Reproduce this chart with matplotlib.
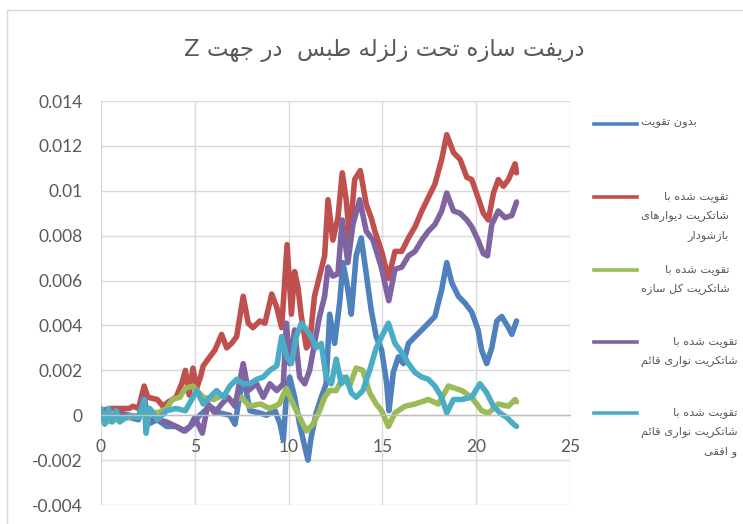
import matplotlib
matplotlib.use("Agg")
import matplotlib.pyplot as plt
from matplotlib.lines import Line2D
from matplotlib.patches import Rectangle
from matplotlib.ticker import FuncFormatter, MultipleLocator

# ---------------- data (time [s], drift) ----------------
title_text = "دریفت سازه تحت زلزله طبس  در جهت Z"

series_names = [
    "بدون تقویت",
    "تقویت شده با\nشاتکریت دیوارهای\nبازشودار",
    "تقویت شده با\nشاتکریت کل سازه",
    "تقویت شده با\nشاتکریت نواری قائم",
    "تقویت شده با\nشاتکریت نواری قائم\nو افقی",
]
series_colors = ["#4F81BD", "#C0504D", "#9BBB59", "#8064A2", "#4BACC6"]

blue_pts = [
    (0, 0.0), (0.3, 0.0002), (0.6, -0.0002), (1.0, 0.0001), (1.5, -0.0001), (2.0, -0.0002),
    (2.3, 0.0009), (2.5, -0.0004), (3.0, -0.0002), (3.5, -0.0005), (4.0, -0.0005), (4.5, -0.0007),
    (4.9, -0.0004), (5.27, 0.0), (5.8, 0.0004), (6.34, 0.0001), (6.87, 0.0), (7.14, -0.0004),
    (7.58, 0.0018), (7.94, 0.0002), (8.47, 0.0001), (8.82, 0.0), (9.28, 0.0002), (9.55, -0.0004),
    (9.72, -0.0011), (9.9, 0.0011), (10.06, 0.0017), (10.32, 0.0008), (10.59, -0.0004),
    (10.86, -0.0014), (11.03, -0.002), (11.2, -0.001), (11.47, 0.0001), (11.74, 0.0008),
    (12.0, 0.0014), (12.19, 0.0045), (12.45, 0.0032), (12.72, 0.005), (12.9, 0.0068),
    (13.16, 0.0056), (13.34, 0.0045), (13.6, 0.0071), (13.87, 0.0079), (14.14, 0.0063),
    (14.4, 0.0047), (14.67, 0.0035), (14.96, 0.0029), (15.23, 0.0014), (15.35, 0.0002),
    (15.58, 0.0019), (15.85, 0.0026), (16.12, 0.0023), (16.39, 0.0032), (16.74, 0.0035),
    (17.1, 0.0038), (17.45, 0.0041), (17.8, 0.0044), (18.16, 0.0056), (18.43, 0.0068),
    (18.7, 0.0059), (19.05, 0.0053), (19.4, 0.005), (19.76, 0.0046), (20.1, 0.0038),
    (20.29, 0.0029), (20.56, 0.0023), (20.83, 0.003), (21.1, 0.0042), (21.36, 0.0044),
    (21.72, 0.0039), (21.9, 0.0036), (22.15, 0.0042),
]

red_pts = [
    (0, 0.0002), (0.5, 0.0003), (1.0, 0.0003), (1.5, 0.0003), (1.7, 0.0004), (2.0, 0.0003),
    (2.3, 0.0013), (2.5, 0.0008), (3.0, 0.0007), (3.3, 0.0004), (3.6, 0.0006), (4.0, 0.0008),
    (4.3, 0.0014), (4.5, 0.002), (4.7, 0.0009), (4.9, 0.0021), (5.1, 0.0012), (5.3, 0.0017),
    (5.45, 0.0022), (5.8, 0.0026), (6.07, 0.0029), (6.43, 0.0036), (6.7, 0.003), (6.96, 0.0032),
    (7.23, 0.0035), (7.58, 0.0053), (7.85, 0.0041), (8.1, 0.0039), (8.47, 0.0042), (8.74, 0.0041),
    (9.1, 0.0054), (9.37, 0.0048), (9.63, 0.0039), (9.92, 0.0076), (10.15, 0.0045),
    (10.32, 0.0064), (10.5, 0.0057), (10.68, 0.0044), (10.95, 0.003), (11.12, 0.0032),
    (11.38, 0.0053), (11.65, 0.0062), (11.92, 0.0071), (12.1, 0.0096), (12.36, 0.0078),
    (12.63, 0.0088), (12.86, 0.0108), (13.07, 0.0096), (13.25, 0.0079), (13.52, 0.0105),
    (13.82, 0.0109), (14.14, 0.0094), (14.4, 0.0088), (14.6, 0.0082), (14.96, 0.0073),
    (15.32, 0.0061), (15.67, 0.0073), (16.03, 0.0073), (16.39, 0.0079), (16.74, 0.0084),
    (17.1, 0.0091), (17.45, 0.0097), (17.8, 0.0103), (18.16, 0.0114), (18.43, 0.0125),
    (18.79, 0.0117), (19.14, 0.0114), (19.5, 0.0106), (19.76, 0.0105), (20.1, 0.0097),
    (20.38, 0.009), (20.65, 0.0087), (20.92, 0.0099), (21.18, 0.0105), (21.45, 0.0102),
    (21.72, 0.0105), (22.07, 0.0112), (22.15, 0.0108),
]

green_pts = [
    (0, 0.0), (0.3, -0.0003), (0.8, -0.0002), (1.5, -0.0001), (2.0, 0.0), (2.5, 0.0002),
    (3.0, 0.0001), (3.5, 0.0003), (3.8, 0.0007), (4.2, 0.0008), (4.5, 0.0012), (4.9, 0.0013),
    (5.45, 0.0008), (6.0, 0.0007), (6.5, 0.0009), (7.0, 0.0006), (7.5, 0.0008), (7.9, 0.0004),
    (8.5, 0.0005), (9.0, 0.0003), (9.5, 0.0005), (9.88, 0.0012), (10.24, 0.0005),
    (10.59, -0.0001), (10.95, -0.0007), (11.3, -0.0004), (11.65, 0.0002), (11.92, 0.0008),
    (12.19, 0.0011), (12.54, 0.0011), (12.9, 0.0017), (13.25, 0.0013), (13.6, 0.0021),
    (13.96, 0.002), (14.32, 0.001), (14.67, 0.0005), (14.96, 0.0002), (15.32, -0.0005),
    (15.67, 0.0001), (16.2, 0.0004), (16.74, 0.0005), (17.45, 0.0007), (17.98, 0.0005),
    (18.52, 0.0013), (19.23, 0.0011), (19.76, 0.0008), (20.29, 0.0002), (20.65, 0.0001),
    (21.18, 0.0005), (21.72, 0.0004), (22.07, 0.0007), (22.15, 0.0006),
]

purple_pts = [
    (0, 0.0001), (0.5, -0.0001), (1.0, 0.0001), (1.5, 0.0), (2.0, -0.0001), (2.3, 0.0008),
    (2.5, -0.0002), (3.0, -0.0002), (3.5, -0.0003), (4.0, -0.0005), (4.4, -0.0007),
    (4.74, -0.0005), (5.0, -0.0001), (5.4, -0.0008), (5.7, 0.0005), (6.07, 0.0001),
    (6.43, 0.0005), (6.78, 0.0008), (7.14, 0.0004), (7.58, 0.0023), (7.85, 0.0011),
    (8.3, 0.0014), (8.65, 0.0008), (9.0, 0.0014), (9.37, 0.0011), (9.72, 0.0014),
    (9.88, 0.0041), (10.06, 0.0023), (10.32, 0.0038), (10.59, 0.0017), (10.86, 0.0014),
    (11.12, 0.002), (11.38, 0.0032), (11.65, 0.0044), (11.92, 0.0053), (12.1, 0.0066),
    (12.36, 0.0062), (12.63, 0.0063), (12.86, 0.0087), (13.16, 0.0068), (13.43, 0.0085),
    (13.79, 0.0096), (14.14, 0.0082), (14.5, 0.0078), (14.94, 0.0066), (15.34, 0.0051),
    (15.67, 0.0065), (16.03, 0.0066), (16.39, 0.0071), (16.74, 0.0073), (17.1, 0.0078),
    (17.45, 0.0082), (17.8, 0.0085), (18.16, 0.0091), (18.43, 0.0099), (18.79, 0.0091),
    (19.14, 0.009), (19.5, 0.0087), (19.76, 0.0084), (20.1, 0.0078), (20.38, 0.0072),
    (20.6, 0.0071), (20.83, 0.0085), (21.18, 0.0091), (21.54, 0.0088), (21.9, 0.0089),
    (22.15, 0.0095),
]

cyan_pts = [
    (0, 0.0003), (0.2, -0.0004), (0.4, 0.0003), (0.6, -0.0003), (0.8, 0.0002), (1.0, -0.0003),
    (1.5, 0.0), (2.0, -0.0001), (2.3, 0.0007), (2.4, -0.0008), (2.6, 0.0003), (3.0, -0.0002),
    (3.5, 0.0002), (4.0, 0.0003), (4.5, 0.0002), (4.9, 0.0008), (5.1, 0.0011), (5.45, 0.0005),
    (5.8, 0.0008), (6.16, 0.0011), (6.52, 0.0008), (6.87, 0.0013), (7.23, 0.0016),
    (7.58, 0.0014), (7.94, 0.0014), (8.3, 0.0016), (8.65, 0.0017), (9.0, 0.002), (9.37, 0.0022),
    (9.63, 0.0035), (9.9, 0.0026), (10.15, 0.0023), (10.41, 0.0035), (10.68, 0.0041),
    (10.95, 0.0038), (11.2, 0.0035), (11.47, 0.003), (11.74, 0.0032), (12.0, 0.0017),
    (12.28, 0.0014), (12.54, 0.0025), (12.81, 0.0014), (13.07, 0.0017), (13.34, 0.001),
    (13.6, 0.0008), (13.96, 0.0011), (14.32, 0.002), (14.67, 0.003), (14.96, 0.0035),
    (15.32, 0.0041), (15.67, 0.0032), (16.03, 0.0028), (16.39, 0.0023), (16.74, 0.0019),
    (17.1, 0.0017), (17.45, 0.0016), (17.8, 0.0013), (18.16, 0.0008), (18.43, 0.0001),
    (18.79, 0.0007), (19.23, 0.0007), (19.76, 0.0008), (20.2, 0.0014), (20.56, 0.001),
    (20.92, 0.0004), (21.27, 0.0001), (21.63, -0.0001), (21.99, -0.0004), (22.15, -0.0005),
]

all_series = [blue_pts, red_pts, green_pts, purple_pts, cyan_pts]

x_min, x_max, x_step = 0, 25, 5
y_min, y_max, y_step = -0.004, 0.014, 0.002

# ---------------- minimal Persian shaping (matplotlib has no text shaping) -------------
FORMS = {  # isolated, final, initial, medial
    "\u0627": ("\uFE8D", "\uFE8E", None, None),
    "\u0628": ("\uFE8F", "\uFE90", "\uFE91", "\uFE92"),
    "\u062A": ("\uFE95", "\uFE96", "\uFE97", "\uFE98"),
    "\u062C": ("\uFE9D", "\uFE9E", "\uFE9F", "\uFEA0"),
    "\u062D": ("\uFEA1", "\uFEA2", "\uFEA3", "\uFEA4"),
    "\u062F": ("\uFEA9", "\uFEAA", None, None),
    "\u0631": ("\uFEAD", "\uFEAE", None, None),
    "\u0632": ("\uFEAF", "\uFEB0", None, None),
    "\u0633": ("\uFEB1", "\uFEB2", "\uFEB3", "\uFEB4"),
    "\u0634": ("\uFEB5", "\uFEB6", "\uFEB7", "\uFEB8"),
    "\u0637": ("\uFEC1", "\uFEC2", "\uFEC3", "\uFEC4"),
    "\u0641": ("\uFED1", "\uFED2", "\uFED3", "\uFED4"),
    "\u0642": ("\uFED5", "\uFED6", "\uFED7", "\uFED8"),
    "\u06A9": ("\uFB8E", "\uFB8F", "\uFB90", "\uFB91"),
    "\u0644": ("\uFEDD", "\uFEDE", "\uFEDF", "\uFEE0"),
    "\u0645": ("\uFEE1", "\uFEE2", "\uFEE3", "\uFEE4"),
    "\u0646": ("\uFEE5", "\uFEE6", "\uFEE7", "\uFEE8"),
    "\u0647": ("\uFEE9", "\uFEEA", "\uFEEB", "\uFEEC"),
    "\u0648": ("\uFEED", "\uFEEE", None, None),
    "\u06CC": ("\uFBFC", "\uFBFD", "\uFBFE", "\uFBFF"),
    "\u0626": ("\uFE89", "\uFE8A", "\uFE8B", "\uFE8C"),
}
RIGHT_ONLY = set("\u0627\u062F\u0631\u0632\u0648")


def shape_line(s):
    out = []
    n = len(s)
    for i, c in enumerate(s):
        if c not in FORMS:
            out.append(c)
            continue
        prev = s[i - 1] if i > 0 else ""
        nxt = s[i + 1] if i < n - 1 else ""
        jp = prev in FORMS and prev not in RIGHT_ONLY
        jn = nxt in FORMS and c not in RIGHT_ONLY
        f = FORMS[c]
        if jp and jn:
            g = f[3]
        elif jp:
            g = f[1]
        elif jn:
            g = f[2]
        else:
            g = f[0]
        out.append(g)
    return "".join(out)[::-1]


def shape(s):
    return "\n".join(shape_line(l) for l in s.split("\n"))


# ---------------- figure ----------------
W, H, DPI = 743, 524, 100
fig = plt.figure(figsize=(W / DPI, H / DPI), dpi=DPI)
fig.patch.set_facecolor("white")

# chart border (Excel chart area)
fig.add_artist(Rectangle((7 / W, -0.2), 1.5, 1.2 - 10 / H, transform=fig.transFigure,
                         fill=False, edgecolor="#d9d9d9", linewidth=1.0))

ax = fig.add_axes([101 / W, 1 - 505 / H, (570 - 101) / W, (505 - 101) / H])
ax.set_xlim(x_min, x_max)
ax.set_ylim(y_min, y_max)
ax.xaxis.set_major_locator(MultipleLocator(x_step))
ax.yaxis.set_major_locator(MultipleLocator(y_step))
ax.grid(True, color="#d9d9d9", linewidth=1.0)
ax.set_axisbelow(True)
for sp in ["top", "right", "left"]:
    ax.spines[sp].set_visible(False)
ax.spines["bottom"].set_position(("data", 0))
ax.spines["bottom"].set_color("#bfbfbf")
ax.spines["bottom"].set_linewidth(1.0)

ax.tick_params(axis="both", length=0, colors="#595959", labelsize=12.5)
ax.tick_params(axis="x", pad=17)
ax.tick_params(axis="y", pad=13)
ax.yaxis.set_major_formatter(FuncFormatter(lambda v, p: "{:g}".format(round(v, 6))))
ax.xaxis.set_major_formatter(FuncFormatter(lambda v, p: "{:g}".format(v)))
for lab in ax.get_xticklabels() + ax.get_yticklabels():
    lab.set_family("Lato")

for pts, col in zip(all_series, series_colors):
    t, v = zip(*pts)
    ax.plot(t, v, color=col, linewidth=4.0, solid_joinstyle="round", solid_capstyle="round")

fig.text(384 / W, 1 - 51 / H, shape(title_text), ha="center", va="center",
         fontsize=16.5, color="#595959", family="DejaVu Sans")

# legend (drawn manually to mimic Excel's right-aligned wrapped entries)
legend_y = [124, 197, 270, 342, 413]
for name, col, yy in zip(series_names, series_colors, legend_y):
    fig.add_artist(Line2D([594 / W, 637 / W], [1 - yy / H, 1 - yy / H],
                          transform=fig.transFigure, color=col, linewidth=2.6))
    fig.text(641 / W, 1 - (yy - 6) / H, shape(name), ha="left", va="top",
             multialignment="right", fontsize=8.2, color="#595959",
             family="DejaVu Sans", linespacing=2.0)

fig.savefig("out.png", dpi=DPI)
